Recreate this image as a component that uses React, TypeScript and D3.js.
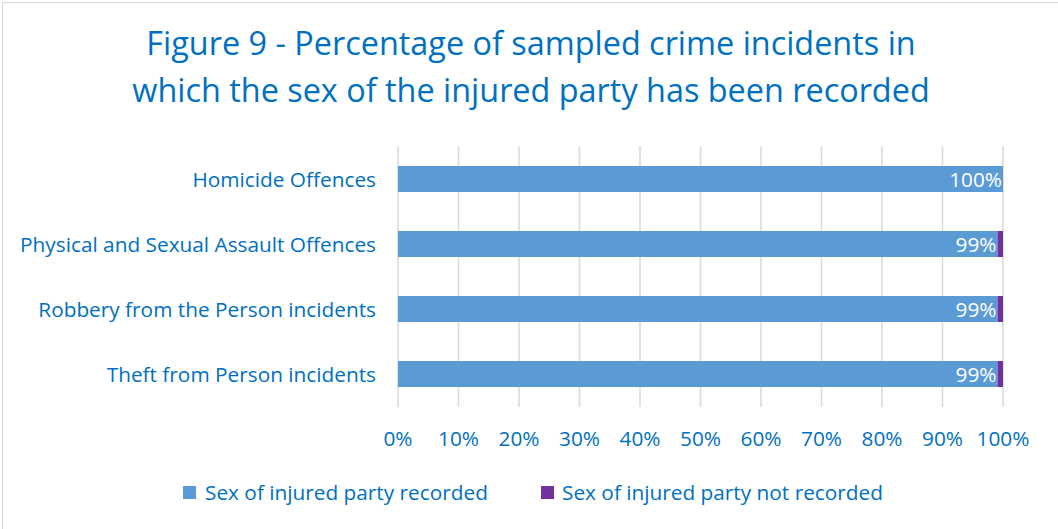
import React from "react";
import * as d3 from "d3";

const categories = [
  "Homicide Offences",
  "Physical and Sexual Assault Offences",
  "Robbery from the Person incidents",
  "Theft from Person incidents",
];
const recorded = [100, 99.1, 99.1, 99.1];
const notRecorded = [0, 0.9, 0.9, 0.9];
const dataLabels = ["100%", "99%", "99%", "99%"];
const xTicks = [0, 10, 20, 30, 40, 50, 60, 70, 80, 90, 100];
const seriesNames = ["Sex of injured party recorded", "Sex of injured party not recorded"];
const titleLines = [
  "Figure 9 - Percentage of sampled crime incidents in",
  "which the sex of the injured party has been recorded",
];

const W = 1058;
const H = 529;
const BLUE = "#5B9BD5";
const PURPLE = "#7030A0";
const TEXT = "#0070C0";
const GRID = "#D9D9D9";
const FONT = "'Open Sans', sans-serif";
const FS = 20.8;

export default function App() {
  const x = d3.scaleLinear().domain([0, 100]).range([398, 1003]);
  const y = d3
    .scaleBand<string>()
    .domain(categories)
    .range([146.5, 406.5])
    .paddingInner(0.6)
    .paddingOuter(0.3);
  const bw = y.bandwidth();

  return (
    <div style={{ position: "fixed", left: 0, top: 0 }}>
      <svg width={W} height={H} style={{ display: "block" }}>
        <rect x={0} y={0} width={W} height={H} fill="#fff" />
        <rect x={2.5} y={2.5} width={W + 10} height={H + 10} fill="none" stroke="#D9D9D9" strokeWidth={1} />
        {titleLines.map((t, i) => (
          <text
            key={i}
            x={531}
            y={55 + i * 47}
            textAnchor="middle"
            fill={TEXT}
            fontFamily={FONT}
            fontSize={32.4}
          >
            {t}
          </text>
        ))}
        {xTicks.map((t) => (
          <line key={t} x1={x(t)} x2={x(t)} y1={146} y2={407} stroke={GRID} strokeWidth={1.5} />
        ))}
        {categories.map((c, i) => {
          const yy = y(c)!;
          return (
            <g key={c}>
              <rect x={x(0)} y={yy} width={x(recorded[i]) - x(0)} height={bw} fill={BLUE} />
              {notRecorded[i] > 0 && (
                <rect
                  x={x(recorded[i])}
                  y={yy}
                  width={x(recorded[i] + notRecorded[i]) - x(recorded[i])}
                  height={bw}
                  fill={PURPLE}
                />
              )}
              <text
                x={x(recorded[i]) - 1}
                y={yy + bw / 2 + 7.5}
                textAnchor="end"
                fill="#fff"
                fontFamily={FONT}
                fontSize={FS}
              >
                {dataLabels[i]}
              </text>
              <text
                x={376}
                y={yy + bw / 2 + 7.5}
                textAnchor="end"
                fill={TEXT}
                fontFamily={FONT}
                fontSize={FS}
              >
                {c}
              </text>
            </g>
          );
        })}
        {xTicks.map((t) => (
          <text
            key={"l" + t}
            x={x(t)}
            y={446}
            textAnchor="middle"
            fill={TEXT}
            fontFamily={FONT}
            fontSize={FS}
          >
            {t + "%"}
          </text>
        ))}
        <rect x={183} y={486} width={13} height={13} fill={BLUE} />
        <text x={205} y={499.5} fill={TEXT} fontFamily={FONT} fontSize={FS}>
          {seriesNames[0]}
        </text>
        <rect x={541} y={486} width={13} height={13} fill={PURPLE} />
        <text x={562} y={499.5} fill={TEXT} fontFamily={FONT} fontSize={FS}>
          {seriesNames[1]}
        </text>
      </svg>
    </div>
  );
}
